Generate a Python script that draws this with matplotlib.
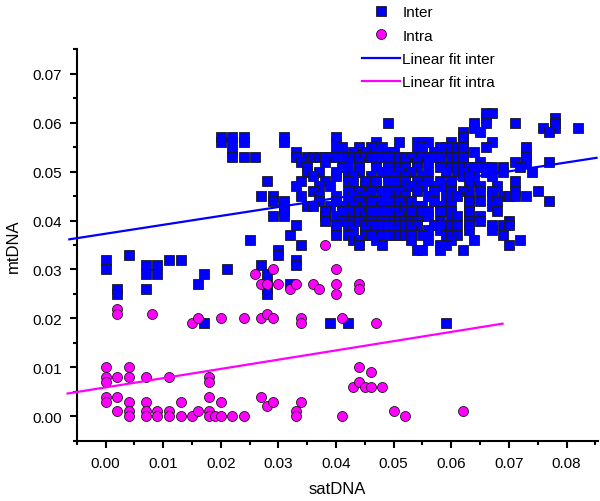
import numpy as np
import matplotlib.pyplot as plt
from matplotlib.ticker import MultipleLocator
from matplotlib.lines import Line2D

plt.rcParams['font.family'] = ['Liberation Sans', 'DejaVu Sans']

# Inter comparisons: mtDNA level (x1000) -> satDNA values (x1000) on that row
inter_rows = {
    62: [66, 67],
    61: [66, 78],
    60: [49, 64, 66, 71, 78],
    59: [64, 76, 78, 82],
    58: [62, 65, 77],
    57: [20, 22, 24, 31, 40, 62],
    56: [20, 22, 24, 31, 40, 47, 51, 54, 55, 56, 60, 62, 67],
    55: [41, 44, 46, 48, 55, 58, 59, 61, 62, 66, 73],
    54: [22, 33, 40, 41, 43, 45, 47, 49, 50, 54, 55, 57, 58, 59, 60, 61, 62, 64, 73],
    53: [22, 24, 26, 33, 35, 36, 37, 38, 39, 40, 41, 42, 43, 44, 45, 46, 47, 48,
         49, 51, 52, 53, 55, 56, 57, 58, 60, 61, 62, 73],
    52: [34, 38, 42, 44, 47, 49, 50, 51, 52, 54, 56, 58, 62, 65, 71, 73, 77],
    51: [35, 41, 44, 47, 49, 51, 52, 54, 58, 59, 60, 61, 62, 63, 64, 65, 66, 67, 69, 72],
    50: [35, 37, 40, 42, 44, 48, 49, 51, 53, 56, 59, 61, 62, 64, 66, 69, 74],
    49: [36, 40, 42, 43, 46, 49, 50, 52, 55, 62, 63, 67],
    48: [28, 34, 38, 42, 45, 47, 49, 50, 52, 54, 56, 58, 60, 64, 71],
    47: [33, 37, 39, 43, 45, 47, 50, 52, 53, 55, 57, 58, 59, 60, 63, 65, 68],
    46: [36, 42, 44, 46, 48, 49, 51, 54, 57, 60, 62, 65, 67, 71, 75],
    45: [27, 29, 34, 37, 40, 43, 45, 48, 49, 50, 51, 52, 56, 59, 60, 61, 63, 67,
         69, 70, 71, 73],
    44: [29, 31, 37, 40, 42, 44, 46, 47, 50, 51, 53, 57, 63, 65, 68, 77],
    43: [31, 35, 36, 39, 41, 43, 45, 46, 48, 49, 50, 51, 52, 53, 54, 55, 58, 59,
         60, 63, 67],
    42: [31, 38, 41, 42, 44, 46, 47, 49, 50, 52, 53, 55, 56, 58, 59, 60, 63, 68],
    41: [29, 31, 38, 40, 42, 43, 44, 45, 46, 47, 48, 49, 50, 51, 53, 55, 56, 60,
         61, 63, 65],
    40: [38, 41, 43, 44, 46, 48, 49, 50, 51, 52, 53, 54, 58, 63, 65, 70],
    39: [33, 40, 42, 45, 46, 47, 48, 49, 50, 51, 52, 53, 54, 57, 59, 60, 61, 63,
         67, 69, 70],
    38: [40, 43, 45, 47, 48, 49, 50, 53, 56, 58, 63, 67],
    37: [32, 40, 42, 45, 46, 48, 49, 50, 51, 52, 53, 55, 59, 60, 61, 69],
    36: [25, 43, 44, 47, 53, 56, 60, 64, 72],
    35: [34, 44, 48, 58, 59, 70],
    34: [30, 54, 55, 58, 62],
    33: [4, 30],
    32: [0, 11, 13, 33],
    31: [7, 9, 27, 33],
    30: [0, 21],
    29: [7, 9, 17, 28],
    27: [16, 28, 32],
    26: [2, 7, 28],
    25: [2, 28],
    19: [17, 39, 42, 59],
}

# Intra comparisons (x1000)
intra_sat = [0, 0, 0, 0, 0, 2, 2, 2, 2, 2, 4, 4, 4, 4, 4, 7, 7, 7, 7, 8, 9, 9,
             11, 11, 11, 13, 13, 15, 15, 16, 16, 18, 18, 18, 18, 18, 19, 20, 20,
             20, 22, 24, 24, 26, 27, 27, 27, 28, 28, 28, 29, 29, 29, 30, 32, 33,
             33, 33, 34, 34, 34, 36, 37, 38, 40, 40, 40, 41, 41, 43, 44, 44, 44,
             44, 45, 46, 46, 47, 48, 50, 52, 62]
intra_mt = [10, 8, 7, 4, 3, 22, 21, 8, 4, 1, 10, 8, 3, 1, 0, 8, 3, 1, 0, 21, 1, 0,
            8, 1, 0, 3, 0, 19, 0, 20, 1, 8, 7, 4, 1, 0, 0, 20, 3,
            0, 0, 20, 0, 29, 27, 20, 4, 27, 21, 2, 30, 20, 3, 27, 26, 27,
            1, 0, 20, 19, 3, 27, 26, 35, 30, 27, 25, 20, 0, 6, 27, 26, 10,
            7, 6, 9, 6, 19, 6, 1, 0, 1]

# linear fits: (intercept, slope) and drawn x span
fit_inter = (0.0373, 0.182)
fit_intra = (0.0059, 0.189)
span_inter = (-0.0063, 0.0852)
span_intra = (-0.0066, 0.0689)

inter_sat = np.array([x for y, xs in inter_rows.items() for x in xs]) / 1000
inter_mt = np.array([y for y, xs in inter_rows.items() for x in xs]) / 1000
intra_sat = np.array(intra_sat) / 1000
intra_mt = np.array(intra_mt) / 1000

blue = '#0000ff'
pink = '#ff00ff'
edge = '#1a1a1a'

fig = plt.figure(figsize=(6, 5.02), dpi=100)
ax = fig.add_axes([0.128, 0.12, 0.869, 0.78])

ax.plot(inter_sat, inter_mt, 's', color=blue, markersize=6.8,
        markeredgecolor=edge, markeredgewidth=0.6, zorder=2)
ax.plot(intra_sat, intra_mt, 'o', color=pink, markersize=7.2,
        markeredgecolor=edge, markeredgewidth=0.6, zorder=3)

xs = np.array(span_inter)
ax.plot(xs, fit_inter[0] + fit_inter[1] * xs, color=blue, lw=1.6,
        clip_on=False, zorder=4)
xs = np.array(span_intra)
ax.plot(xs, fit_intra[0] + fit_intra[1] * xs, color=pink, lw=1.6,
        clip_on=False, zorder=4)

ax.set_xlim(-0.005, 0.0855)
ax.set_ylim(-0.005, 0.075)
ax.set_xticks(np.arange(0, 0.081, 0.01))
ax.set_yticks(np.arange(0, 0.071, 0.01))
ax.xaxis.set_minor_locator(MultipleLocator(0.005))
ax.yaxis.set_minor_locator(MultipleLocator(0.005))
ax.xaxis.set_major_formatter(plt.FormatStrFormatter('%.2f'))
ax.yaxis.set_major_formatter(plt.FormatStrFormatter('%.2f'))

for s in ['top', 'right']:
    ax.spines[s].set_visible(False)
for s in ['left', 'bottom']:
    ax.spines[s].set_linewidth(1.5)

ax.tick_params(which='major', direction='out', length=5, width=1.5,
               labelsize=11, pad=6)
ax.tick_params(which='minor', direction='out', length=3, width=1.5)

ax.set_xlabel('satDNA', fontsize=12, labelpad=8)
ax.set_ylabel('mtDNA', fontsize=12, labelpad=8)

handles = [
    Line2D([], [], ls='none', marker='s', color=blue, markersize=6.8,
           markeredgecolor=edge, markeredgewidth=0.6),
    Line2D([], [], ls='none', marker='o', color=pink, markersize=7.2,
           markeredgecolor=edge, markeredgewidth=0.6),
    Line2D([], [], color=blue, lw=1.6),
    Line2D([], [], color=pink, lw=1.6),
]
labels = ['Inter', 'Intra', 'Linear fit inter', 'Linear fit intra']
fig.legend(handles, labels, loc='upper left', bbox_to_anchor=(0.598, 0.994),
           frameon=False, fontsize=11, handlelength=2.5, handletextpad=0.15,
           labelspacing=0.62, borderpad=0.2, borderaxespad=0)

fig.savefig('out.png', dpi=100)
